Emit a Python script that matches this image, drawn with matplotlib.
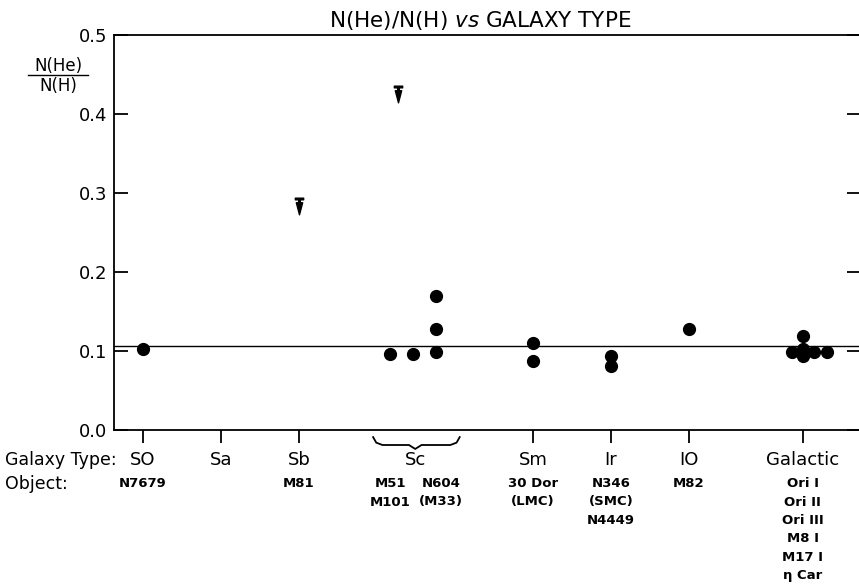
import numpy as np
import matplotlib.pyplot as plt
from matplotlib.path import Path
from matplotlib.transforms import blended_transform_factory

plt.rcParams['font.family'] = ['DejaVu Sans']

# galaxy types along the bottom (x position of each type)
type_names = ["SO", "Sa", "Sb", "Sc", "Sm", "Ir", "IO", "Galactic"]
type_pos = [1, 2, 3, 4.49, 6, 7, 8, 9.46]
tick_pos = [1, 2, 3, 6, 7, 8, 9.46]

# objects under each type (one string per column)
object_pos = [1, 3, 4.17, 4.82, 6, 7, 8, 9.46]
object_text = ["N7679", "M81", "M51\nM101", "N604\n(M33)", "30 Dor\n(LMC)",
               "N346\n(SMC)\nN4449", "M82",
               "Ori I\nOri II\nOri III\nM8 I\nM17 I\n\u03b7 Car"]

# measured He/H ratios
det_x = [1.0, 4.17, 4.46, 4.76, 4.76, 4.76, 6.0, 6.0, 7.0, 7.0, 8.0,
         9.46, 9.32, 9.46, 9.46, 9.6, 9.77]
det_y = [0.102, 0.096, 0.096, 0.099, 0.128, 0.170, 0.110, 0.087, 0.094, 0.081, 0.128,
         0.119, 0.099, 0.103, 0.094, 0.099, 0.099]

# upper limits
lim_x = [3.0, 4.27]
lim_y = [0.283, 0.425]

mean_ratio = 0.106

# upper-limit marker: bar on top, drop pointing down
verts = [(-0.5, 1), (0.5, 1), (0.5, 0.8), (0.1, 0.8), (0.1, 0.45), (0.38, 0.45),
         (0, -1), (-0.38, 0.45), (-0.1, 0.45), (-0.1, 0.8), (-0.5, 0.8), (-0.5, 1)]
limit_marker = Path(verts, closed=True)

fig = plt.figure(figsize=(8.59, 5.86), dpi=100)
ax = fig.add_axes([114 / 859, 1 - 430 / 586, (861 - 114) / 859, 395 / 586])

ax.axhline(mean_ratio, color="black", lw=1.0, zorder=1)
ax.plot(det_x, det_y, "o", color="black", ms=8.5, zorder=3)
ax.plot(lim_x, lim_y, ls="none", marker=limit_marker, color="black", ms=12, zorder=3)

ax.set_xlim(0.628, 10.205)
ax.set_ylim(0, 0.5)

ax.spines["right"].set_visible(False)
for s in ["left", "top", "bottom"]:
    ax.spines[s].set_linewidth(1.3)

ax.set_yticks([0.0, 0.1, 0.2, 0.3, 0.4, 0.5], ["0.0", "0.1", "0.2", "0.3", "0.4", "0.5"])
ax.tick_params(axis="y", direction="in", length=10, width=1.3, labelsize=13,
               pad=5, right=True)
ax.set_xticks(tick_pos, [""] * len(tick_pos))
ax.tick_params(axis="x", direction="out", length=9, width=1.3)

trans = blended_transform_factory(ax.transData, ax.transAxes)

# galaxy type row
for name, x in zip(type_names, type_pos):
    ax.annotate(name, (x, 0), xycoords=trans, xytext=(0, -30), textcoords="offset pixels",
                ha="center", va="center", fontsize=13)

# objects row
for txt, x in zip(object_text, object_pos):
    ax.annotate(txt, (x, 0), xycoords=trans, xytext=(0, -47), textcoords="offset pixels",
                ha="center", va="top", fontsize=9.5, fontweight="bold", linespacing=1.55)

fig.text(5 / 859, 1 - 460 / 586, "Galaxy Type:", fontsize=12.5, ha="left", va="center")
fig.text(5 / 859, 1 - 484 / 586, "Object:", fontsize=12.5, ha="left", va="center")

# brace under Sc
b0, b1, bc = 3.95, 5.06, 4.49
bx = [b0, b0 + 0.04, b0 + 0.12, bc - 0.08, bc, bc + 0.08, b1 - 0.12, b1 - 0.04, b1]
by = [-0.018, -0.032, -0.038, -0.038, -0.048, -0.038, -0.038, -0.032, -0.018]
ax.plot(bx, by, color="black", lw=1.3, transform=trans, clip_on=False)

# title and y label
fig.text(480 / 859, 1 - 20 / 586, r"N(He)/N(H) $\mathit{vs}$ GALAXY TYPE",
         fontsize=15.5, ha="center", va="center")
fig.text(58 / 859, 1 - 66 / 586, "N(He)", fontsize=12, ha="center", va="center")
fig.text(58 / 859, 1 - 86 / 586, "N(H)", fontsize=12, ha="center", va="center")
fig.add_artist(plt.Line2D([28 / 859, 88 / 859], [1 - 75 / 586, 1 - 75 / 586],
                          color="black", lw=1.0))

fig.savefig("out.png", dpi=100)
